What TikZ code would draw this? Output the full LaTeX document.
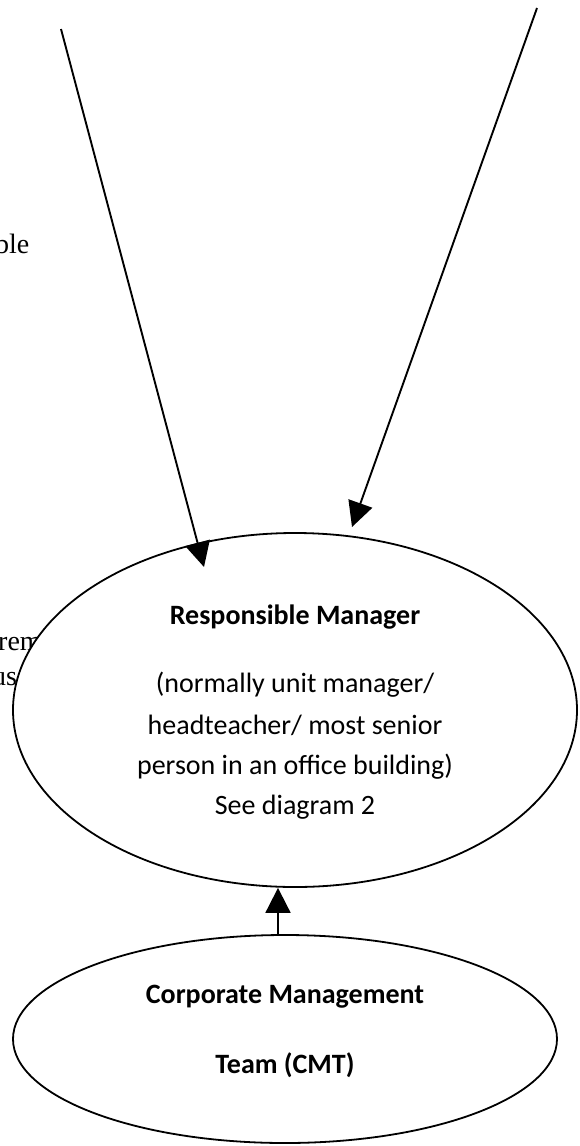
\documentclass[tikz,border=0pt]{standalone}
\usepackage{fontspec}
\setmainfont{Carlito}
\newfontfamily\serifcut{Liberation Serif}
\usetikzlibrary{arrows.meta,shapes.geometric}
\begin{document}
\begin{tikzpicture}[x=1pt,y=-1pt,
  conn/.style={line width=1.9pt,-{Triangle[length=25pt,width=25pt]}},
  oval/.style={ellipse,draw,line width=1.8pt,fill=white,inner sep=0pt},
  lbl/.style={font=\fontsize{28}{33}\selectfont,inner sep=0pt},
  blbl/.style={font=\bfseries\fontsize{28}{33}\selectfont,inner sep=0pt},
  cut/.style={font=\serifcut\fontsize{28}{33}\selectfont,inner sep=0pt,anchor=base west}]
\useasboundingbox (0,0) rectangle (579,1146);
% stray text cut by the page edge
\node[cut] (t1) at (-5,253) {ble};
\node[cut] (t2) at (-2,650) {rem};
\node[cut] (t3) at (-8,685) {us};
% ellipses
\node[oval,minimum width=564pt,minimum height=354pt] (rm) at (295,710) {};
\node[oval,minimum width=544pt,minimum height=208pt] (cmt) at (285,1039) {};
% texts
\node[blbl] (r1) at (295,617) {Responsible Manager};
\node[lbl] (r2) at (295,685) {(normally unit manager/};
\node[lbl] (r3) at (295,725) {headteacher/ most senior};
\node[lbl] (r4) at (295,767) {person in an office building)};
\node[lbl] (r5) at (295,807) {See diagram 2};
\node[blbl] (c1) at (285,997) {Corporate Management};
\node[blbl] (c2) at (285,1065) {Team (CMT)};
% connectors
\coordinate (a1) at (61,29);
\coordinate (a1t) at (204,567);
\coordinate (a2) at (537,8);
\coordinate (a2t) at (352,527);
\draw[conn] (a1) -- (a1t);
\draw[conn] (a2) -- (a2t);
\draw[conn] (cmt.north -| 278,0) -- (rm.south -| 278,0);
\end{tikzpicture}
\end{document}
